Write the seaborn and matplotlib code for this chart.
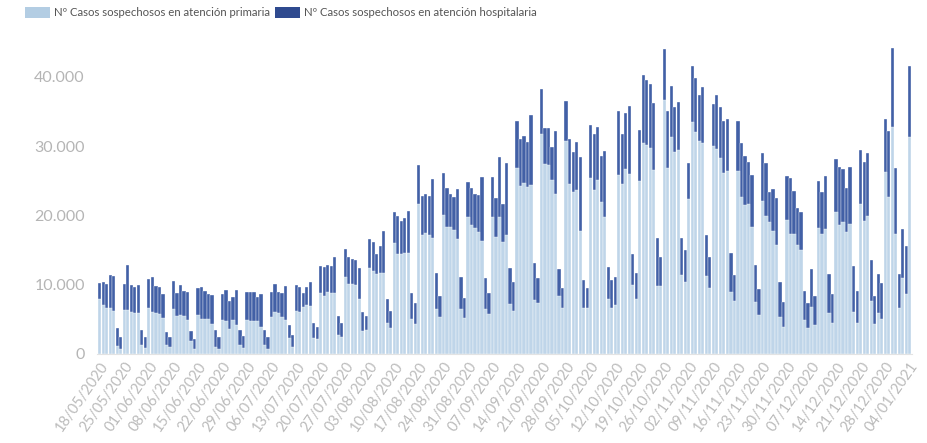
import matplotlib
matplotlib.use("Agg")
import matplotlib.pyplot as plt
from matplotlib.patches import Patch
import seaborn as sns
import pandas as pd
import numpy as np

start_date = "2020-05-18"
n_days = 232

primaria = [
    8000,7100,6700,6700,6200,1200,700,
    6400,6300,6000,5950,5900,1300,800,
    6700,6100,5950,5800,5200,1300,1000,
    6500,5500,5600,5500,4900,1800,700,
    5650,5050,5000,5000,4300,1050,700,
    4900,4700,3600,4900,4200,1300,900,
    4900,4750,4750,4750,3900,1300,700,
    5300,6100,5950,5400,4900,2300,1000,
    6200,6000,6800,7100,6900,2300,2200,
    8750,8300,9000,8750,8850,2800,2400,
    11100,10050,10050,9950,8000,3300,3450,
    12450,11900,11500,11700,11750,4500,3700,
    16050,14400,14400,14500,14500,5000,4300,
    21600,17100,17500,17100,16700,6550,5400,
    20100,18300,18300,17900,16600,6450,5250,
    19700,18550,18200,17650,16300,6450,5700,
    19700,16900,19800,16200,17200,7150,6200,
    26900,24250,24600,24050,24400,7800,7300,
    31700,27350,27300,25100,23100,8300,6700,
    30700,24500,23300,23650,17750,6700,6700,
    25450,23650,25100,21900,19700,7900,6600,
    7100,25800,24500,26700,26000,9950,8000,
    24900,30500,30150,29700,26550,9850,9800,
    36650,26800,31350,29200,29450,11400,10450,
    22350,33500,32000,30700,30500,11300,9550,
    30000,29600,28250,26100,26400,8900,7700,
    26400,22700,21500,21650,18350,7550,5600,
    22100,19950,19100,17750,15700,5300,3950,
    19350,17300,17300,15750,15050,4900,3700,
    6800,4200,18200,17300,18000,5900,4500,
    20500,18600,19000,17550,18700,6000,4400,
    21650,19250,19950,7700,4300,5900,5050,
    26200,22700,32800,17300,6700,10900,8600,
    31250,
]

hospitalaria = [
    2300,3300,3400,4700,5000,2500,1700,
    3700,6500,4000,3750,4100,2200,1700,
    4100,5000,3850,3900,3500,1900,1400,
    4000,3300,4400,3600,4000,1500,1500,
    3900,4550,4100,3600,4200,2350,1700,
    3700,4600,4100,3300,5100,2200,1700,
    4100,4200,4200,3450,4800,2100,1700,
    3650,4000,3050,3400,4900,1900,1800,
    3800,3600,2050,2500,3500,2100,1700,
    3950,4200,3900,3950,5100,2700,2100,
    4050,4000,3700,3600,4400,2700,2050,
    4100,4200,2900,3900,6000,3400,2550,
    4400,5500,4850,5100,6100,3750,3100,
    5600,5750,5600,5700,8600,5200,3000,
    6050,5650,4800,4700,7250,4700,2850,
    5050,5450,4850,5250,9300,4450,3150,
    5800,5650,8600,5400,10300,5200,4250,
    6700,6750,6850,6600,10100,5300,3600,
    6500,5300,5350,4700,9100,3900,2850,
    5800,6500,5900,6900,10650,3900,2800,
    7600,8050,7600,6700,9600,4600,4100,
    4050,9250,7300,8100,9800,4450,3650,
    7400,9700,9400,9250,9650,6950,4250,
    7350,8250,7350,6500,6850,5400,4550,
    5250,8000,7800,6700,7950,5900,4400,
    6000,7800,7450,7500,7450,5700,3700,
    7200,7700,7100,6000,7450,5300,3750,
    6850,7550,4200,6050,6850,5150,3500,
    6350,8050,6200,5350,5500,4200,3600,
    5450,4200,6800,6000,7700,5600,4100,
    7600,8400,7700,6450,8300,6700,4700,
    7800,8500,9000,5850,4000,5600,5250,
    7700,9500,11400,9500,4800,7200,7000,
    10350,
]

legend_labels = ["Nº Casos sospechosos en atención primaria",
                 "Nº Casos sospechosos en atención hospitalaria"]
y_ticks = [0, 10000, 20000, 30000, 40000]
y_tick_labels = ["0", "10.000", "20.000", "30.000", "40.000"]

dates = pd.date_range(start_date, periods=n_days, freq="D")
df = pd.DataFrame({
    "fecha": dates.strftime("%d/%m/%Y"),
    "primaria": primaria,
    "hospitalaria": hospitalaria,
})
df["total"] = df["primaria"] + df["hospitalaria"]

light = "#bfd5e9"
dark = "#4260a6"

sns.set_theme(style="white")
plt.rcParams["font.family"] = ["Lato", "DejaVu Sans"]

fig = plt.figure(figsize=(9.27, 4.43), dpi=100)
ax = fig.add_axes([0.105, 0.201, 0.879, 0.704])

sns.barplot(data=df, x="fecha", y="total", color=dark, saturation=1,
            width=0.92, edgecolor="white", linewidth=0.25, ax=ax)
sns.barplot(data=df, x="fecha", y="primaria", color=light, saturation=1,
            width=0.92, edgecolor="white", linewidth=0.25, ax=ax)

ax.set_xlim(-0.7, n_days - 0.3)
ax.set_ylim(0, 45000)
ax.set_yticks(y_ticks)
ax.set_yticklabels(y_tick_labels, fontsize=11.5, color="#b5b5b5")
tick_pos = list(range(0, n_days, 7))
ax.set_xticks(tick_pos)
ax.set_xticklabels([df["fecha"][i] for i in tick_pos], rotation=55,
                   ha="right", rotation_mode="anchor", fontsize=10.5,
                   color="#bbbbbb")
ax.tick_params(axis="x", length=0, pad=4)
ax.tick_params(axis="y", length=0, pad=9)
ax.set_xlabel("")
ax.set_ylabel("")
for s in ["top", "right", "left"]:
    ax.spines[s].set_visible(False)
ax.spines["bottom"].set_color("#e3e3e3")
ax.spines["bottom"].set_linewidth(0.8)
ax.grid(False)

handles = [Patch(facecolor="#b3cde3", edgecolor="none"),
           Patch(facecolor="#2f4a8f", edgecolor="none")]
fig.legend(handles, legend_labels, loc="upper left", bbox_to_anchor=(0.016, 1.008),
           ncol=2, frameon=False, fontsize=8.2, handlelength=2.2, handleheight=1.2,
           handletextpad=0.3, columnspacing=0.5, labelcolor="#555555")

fig.savefig("out.png", dpi=100)
